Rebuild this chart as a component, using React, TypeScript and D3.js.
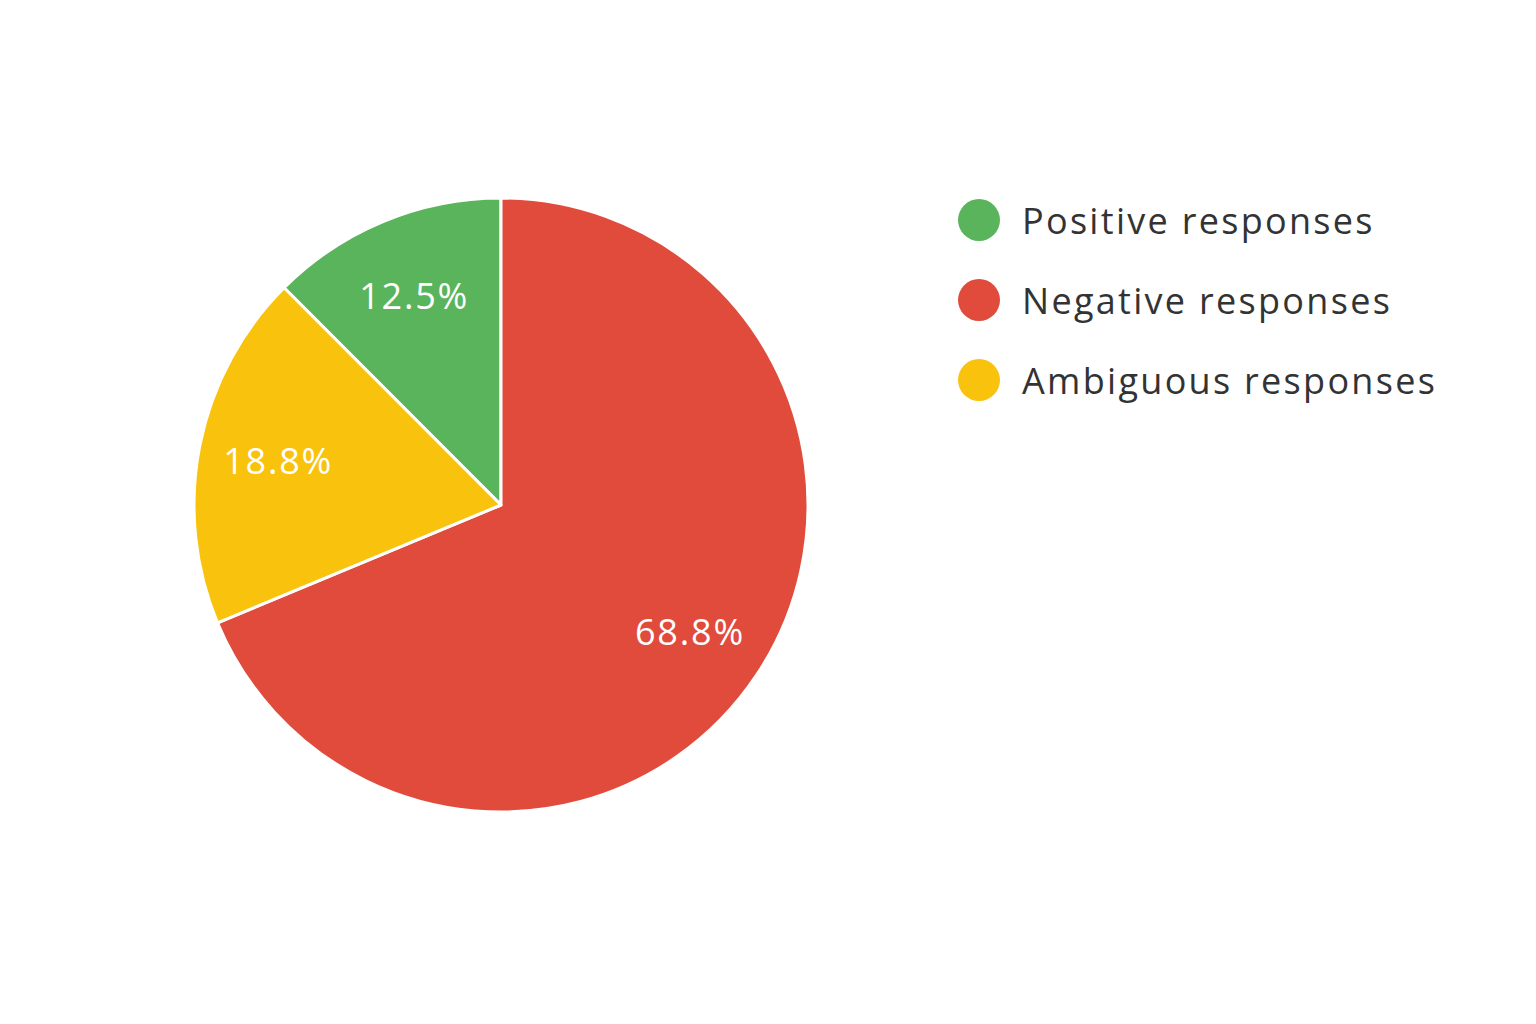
import { useEffect, useRef } from 'react';
import * as d3 from 'd3';

const categories = ['Positive responses', 'Negative responses', 'Ambiguous responses'];
const shares = [12.5, 68.8, 18.8];
const colors = ['#5AB45B', '#E04B3B', '#F9C20D'];
// clockwise from 12 o'clock: negative, ambiguous, positive
const sliceOrder = [1, 2, 0];

const W = 1536;
const H = 1024;
const FONT = '"Open Sans", Lato, sans-serif';

export default function App() {
  const ref = useRef<SVGSVGElement>(null);

  useEffect(() => {
    document.body.style.margin = '0';
    const svg = d3.select(ref.current);
    svg.selectAll('*').remove();

    const cx = 501;
    const cy = 505;
    const r = 307;

    const pie = d3.pie<number>()
      .value(i => shares[i])
      .sort((a, b) => sliceOrder.indexOf(a) - sliceOrder.indexOf(b));
    const arcs = pie([0, 1, 2]);

    const arc = d3.arc<d3.PieArcDatum<number>>().innerRadius(0).outerRadius(r);
    const labelArc = d3.arc<d3.PieArcDatum<number>>().innerRadius(r * 0.74).outerRadius(r * 0.74);

    const g = svg.append('g').attr('transform', `translate(${cx},${cy})`);

    g.selectAll('path.slice')
      .data(arcs)
      .join('path')
      .attr('class', 'slice')
      .attr('d', arc)
      .attr('fill', d => colors[d.data])
      .attr('stroke', '#fff')
      .attr('stroke-width', 3)
      .attr('stroke-linejoin', 'round');

    g.selectAll('text.pct')
      .data(arcs)
      .join('text')
      .attr('class', 'pct')
      .attr('transform', d => `translate(${labelArc.centroid(d)})`)
      .attr('text-anchor', 'middle')
      .attr('dominant-baseline', 'central')
      .attr('fill', '#fff')
      .attr('font-family', FONT)
      .attr('font-size', 36)
      .attr('letter-spacing', 1.8)
      .text(d => `${shares[d.data].toFixed(1)}%`);

    // legend
    const y = d3.scalePoint<string>().domain(categories).range([220, 380]);
    const legend = svg.append('g');
    const item = legend.selectAll('g')
      .data(categories)
      .join('g')
      .attr('transform', d => `translate(979,${y(d)})`);

    item.append('circle')
      .attr('r', 21)
      .attr('fill', (_, i) => colors[i]);

    item.append('text')
      .attr('x', 43)
      .attr('dominant-baseline', 'central')
      .attr('fill', '#333')
      .attr('font-family', FONT)
      .attr('font-size', 36)
      .attr('letter-spacing', 2.3)
      .text(d => d);
  }, []);

  return <svg ref={ref} width={W} height={H} style={{ display: 'block', background: '#fff' }} />;
}
